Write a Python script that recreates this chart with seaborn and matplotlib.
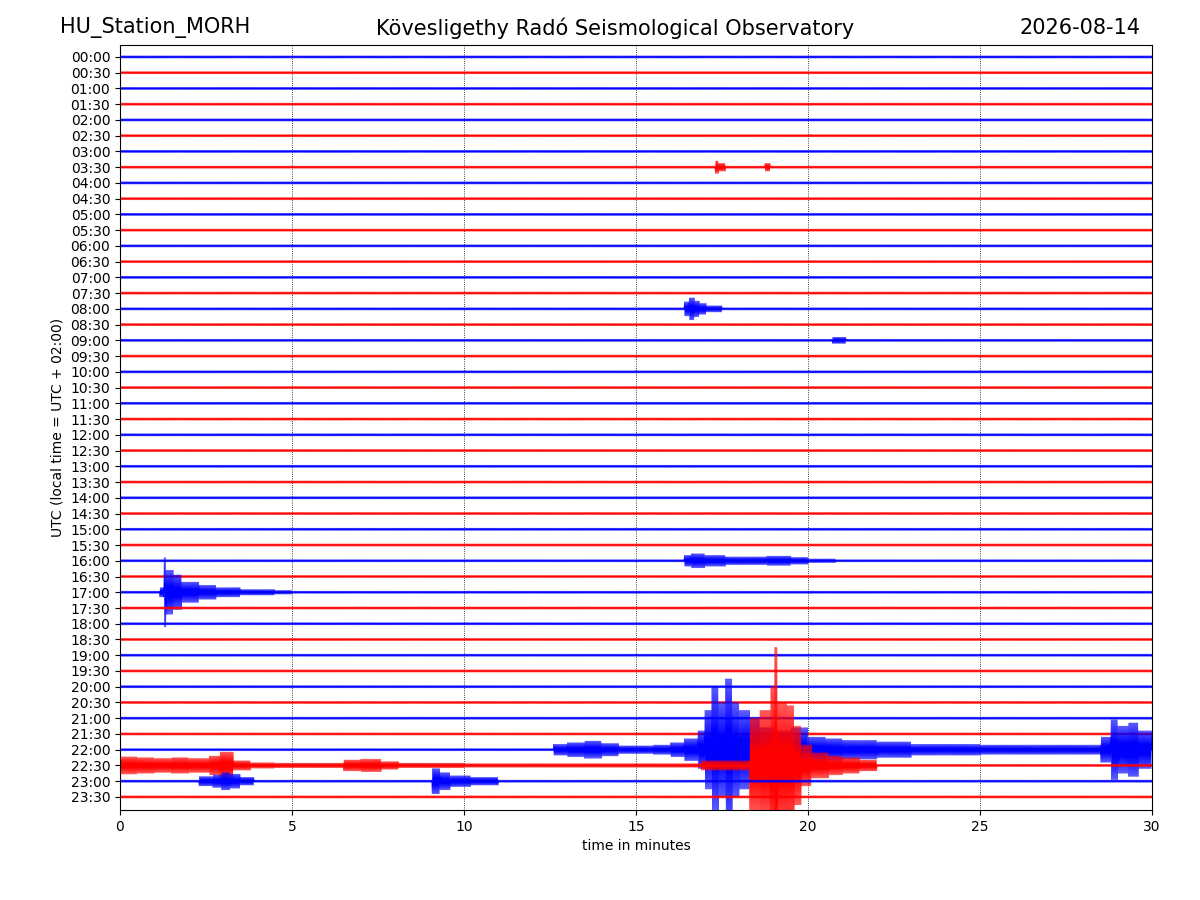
import numpy as np
import pandas as pd
import seaborn as sns
import matplotlib
matplotlib.use("Agg")
import matplotlib.pyplot as plt

# helicorder: 48 half-hour lines, 30 minutes each
row_labels = ["%02d:%02d" % (h, m) for h in range(24) for m in (0, 30)]
row_colors = ["blue", "red"]
minutes_per_row = 30
samples_per_minute = 70
noise_amp = 0.075  # quiet-trace amplitude, in line spacings

# events: (start minute, half amplitude in line spacings),
# each value holds until the next start; 0 ends the event
ev_0330 = [(17.30, 0.40), (17.40, 0.25), (17.60, 0), (18.75, 0.25), (18.90, 0)]
ev_0800 = [(16.40, 0.45), (16.55, 0.70), (16.70, 0.50), (16.85, 0.35),
           (17.05, 0.20), (17.50, 0)]
ev_0900 = [(20.70, 0.20), (21.10, 0)]
ev_1600 = [(16.40, 0.35), (16.60, 0.45), (17.00, 0.35), (17.60, 0.25),
           (18.80, 0.30), (19.50, 0.22), (20.00, 0.12), (20.80, 0)]
ev_1700 = [(1.15, 0.30), (1.28, 2.20), (1.34, 1.40), (1.55, 1.10), (1.80, 0.65),
           (2.30, 0.45), (2.80, 0.30), (3.50, 0.18), (4.50, 0.12), (5.00, 0)]
ev_2200 = [(12.6, 0.35), (13.0, 0.45), (13.5, 0.55), (14.0, 0.40), (14.5, 0.25),
           (15.5, 0.30), (16.0, 0.45), (16.4, 0.70), (16.8, 1.20), (17.0, 2.50),
           (17.2, 4.00), (17.4, 3.00), (17.6, 4.50), (17.8, 3.00), (18.0, 2.50),
           (18.3, 2.00), (18.6, 1.40), (19.0, 1.20), (19.5, 1.40), (20.0, 0.80),
           (20.5, 0.70), (21.0, 0.60), (22.0, 0.50), (23.0, 0.35), (25.0, 0.30),
           (28.5, 0.80), (28.8, 1.90), (29.0, 1.50), (29.3, 1.70), (29.6, 1.20),
           (30.0, 0)]
ev_2230 = [(0.0, 0.55), (0.5, 0.50), (1.0, 0.45), (1.5, 0.50), (2.0, 0.45),
           (2.6, 0.60), (2.9, 0.85), (3.3, 0.30), (3.8, 0.18), (4.5, 0.15),
           (6.5, 0.35), (7.0, 0.40), (7.6, 0.25), (8.1, 0.15), (10.0, 0.12),
           (16.9, 0.30), (18.3, 3.00), (18.6, 3.50), (18.9, 5.00), (19.03, 7.50),
           (19.12, 4.00), (19.4, 3.80), (19.6, 2.50), (19.8, 1.30), (20.1, 0.80),
           (20.6, 0.60), (21.0, 0.50), (21.5, 0.35), (22.0, 0)]
ev_2300 = [(2.3, 0.30), (2.7, 0.40), (2.95, 0.55), (3.2, 0.45), (3.5, 0.25),
           (3.9, 0), (9.07, 0.80), (9.3, 0.55), (9.6, 0.35), (10.2, 0.25),
           (11.0, 0)]

event_rows = [7, 16, 18, 32, 34, 44, 45, 46]
event_envs = [ev_0330, ev_0800, ev_0900, ev_1600, ev_1700, ev_2200, ev_2230, ev_2300]


def trace(row, env_steps):
    n = minutes_per_row * samples_per_minute
    t = np.linspace(0, minutes_per_row, n)
    env = np.full(n, noise_amp)
    for i, (t0, a) in enumerate(env_steps):
        t1 = env_steps[i + 1][0] if i + 1 < len(env_steps) else minutes_per_row + 1
        sel = (t >= t0) & (t < t1)
        env[sel] = np.maximum(env[sel], a)
    swing = np.where(np.arange(n) % 2 == 0, 1.0, -1.0)
    return pd.DataFrame({"t": t, "y": row - swing * env})


sns.set_style("ticks")
plt.rcParams.update({"text.color": "black", "axes.labelcolor": "black",
                     "xtick.color": "black", "ytick.color": "black",
                     "axes.edgecolor": "black"})
fig, ax = plt.subplots(figsize=(12, 9), dpi=100)
fig.subplots_adjust(left=0.1, right=0.96, bottom=0.1, top=0.95)

for row in range(len(row_labels)):
    steps = event_envs[event_rows.index(row)] if row in event_rows else []
    df = trace(row, steps)
    sns.lineplot(data=df, x="t", y="y", color=row_colors[row % 2], lw=0.45,
                 estimator=None, sort=False, ax=ax)

ax.set_xlim(0, minutes_per_row)
ax.set_ylim(len(row_labels) - 1 + 0.83, -0.76)
ax.set_xticks(range(0, 31, 5))
ax.set_yticks(range(len(row_labels)))
ax.set_yticklabels(row_labels)
for x in range(5, 30, 5):
    ax.axvline(x, color="k", ls=":", lw=0.6, zorder=0)
ax.tick_params(labelsize=10)
ax.set_xlabel("time in minutes")
ax.set_ylabel("UTC (local time = UTC + 02:00)")

fig.text(0.129, 0.969, "HU_Station_MORH", fontsize=15, ha="center", va="center")
fig.text(0.5125, 0.969, "Kövesligethy Radó Seismological Observatory",
         fontsize=15, ha="center", va="center")
fig.text(0.9, 0.969, "2026-08-14", fontsize=15, ha="center", va="center")

fig.savefig("out.png", dpi=100)
